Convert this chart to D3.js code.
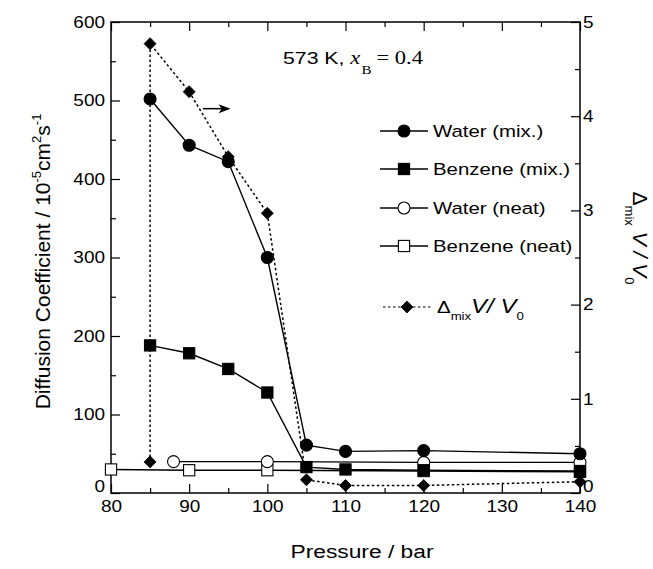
<!DOCTYPE html>
<html>
<head>
<meta charset="utf-8">
<script src="https://cdn.jsdelivr.net/npm/d3@7"></script>
<style>
  body { margin: 0; background: #fff; }
  text { font-family: "Liberation Sans", Arial, sans-serif; fill: #000; }
  .serif { font-family: "Liberation Serif", "Times New Roman", serif; }
</style>
</head>
<body>
<div id="chart"></div>
<script>
// --- data
const pressureMix = [85, 90, 95, 100, 105, 110, 120, 140];
const waterMix = [502, 443, 422, 300, 61, 53, 54, 50];
const benzeneMix = [188, 178, 158, 128, 33, 30, 29, 28];

const pressureWaterNeat = [88, 100, 120, 140];
const waterNeat = [40, 40, 39, 39];

const pressureBenzeneNeat = [80, 90, 100, 120, 140];
const benzeneNeat = [30, 29, 29, 28, 27];

const pressureVol = [85, 85, 90, 95, 100, 105, 110, 120, 140];
const mixVolume = [0.33, 4.77, 4.26, 3.57, 2.97, 0.14, 0.08, 0.08, 0.12];

const xTicks = [80, 90, 100, 110, 120, 130, 140];
const yLeftTicks = [0, 100, 200, 300, 400, 500, 600];
const yRightTicks = [0, 1, 2, 3, 4, 5];

// --- layout
const width = 653, height = 569;
const margin = { top: 22, right: 73, bottom: 76, left: 111 };
const stretch = 1.15; // the scanned figure is a bit wider than tall

const svg = d3.select("#chart").append("svg")
  .attr("width", width)
  .attr("height", height)
  .attr("viewBox", [0, 0, width, height]);

svg.append("rect").attr("width", width).attr("height", height).attr("fill", "#fff");

const x = d3.scaleLinear().domain([80, 140]).range([margin.left, width - margin.right]);
const yL = d3.scaleLinear().domain([0, 600]).range([height - margin.bottom, margin.top]);
const yR = d3.scaleLinear().domain([0, 5]).range([height - margin.bottom, margin.top]);

const x0 = x.range()[0], x1 = x.range()[1];
const y0 = yL.range()[0], y1 = yL.range()[1];

// --- axes (ticks pointing inward)
function styleAxis(g) {
  g.select(".domain").remove();
  g.selectAll("line").attr("stroke", "#000").attr("stroke-width", 1.2);
  g.selectAll("text")
    .attr("font-size", 16.5)
    .each(function () {
      const t = d3.select(this);
      const tx = +t.attr("x") || 0;
      t.attr("x", tx / stretch).attr("transform", `scale(${stretch},1)`);
    });
}

// minor ticks
svg.append("g").attr("transform", `translate(0,${y0})`)
  .call(d3.axisBottom(x).tickValues(d3.range(85, 140, 10)).tickSize(-5).tickFormat(""))
  .call(styleAxis);
svg.append("g").attr("transform", `translate(0,${y1})`)
  .call(d3.axisTop(x).tickValues(d3.range(85, 140, 10)).tickSize(-5).tickFormat(""))
  .call(styleAxis);
svg.append("g").attr("transform", `translate(${x0},0)`)
  .call(d3.axisLeft(yL).tickValues(d3.range(50, 600, 100)).tickSize(-5).tickFormat(""))
  .call(styleAxis);
svg.append("g").attr("transform", `translate(${x1},0)`)
  .call(d3.axisRight(yR).tickValues(d3.range(0.5, 5, 1)).tickSize(-5).tickFormat(""))
  .call(styleAxis);

// major ticks
svg.append("g").attr("transform", `translate(0,${y0})`)
  .call(d3.axisBottom(x).tickValues(xTicks).tickSize(-9).tickPadding(7).tickFormat(d3.format("d")))
  .call(styleAxis);
svg.append("g").attr("transform", `translate(0,${y1})`)
  .call(d3.axisTop(x).tickValues(xTicks).tickSize(-9).tickFormat(""))
  .call(styleAxis);
svg.append("g").attr("transform", `translate(${x0},0)`)
  .call(d3.axisLeft(yL).tickValues(yLeftTicks).tickSize(-9).tickPadding(6).tickFormat(d3.format("d")))
  .call(styleAxis)
  .call(g => g.selectAll(".tick text").filter(d => d === 0).attr("dy", "-0.1em"));
svg.append("g").attr("transform", `translate(${x1},0)`)
  .call(d3.axisRight(yR).tickValues(yRightTicks).tickSize(-9).tickPadding(3).tickFormat(d3.format("d")))
  .call(styleAxis)
  .call(g => g.selectAll(".tick text").filter(d => d === 0).attr("dy", "-0.1em"));

// frame
svg.append("rect")
  .attr("x", x0).attr("y", y1)
  .attr("width", x1 - x0).attr("height", y0 - y1)
  .attr("fill", "none").attr("stroke", "#000").attr("stroke-width", 1.5);

// --- axis titles
svg.append("text")
  .attr("transform", `translate(362,558) scale(1.2,1)`)
  .attr("text-anchor", "middle")
  .attr("font-size", 19)
  .text("Pressure / bar");

const yLabel = svg.append("text")
  .attr("transform", `translate(50,${(y0 + y1) / 2 + 4}) rotate(-90)`)
  .attr("text-anchor", "middle")
  .attr("font-size", 21);
yLabel.append("tspan").text("Diffusion Coefficient / 10");
yLabel.append("tspan").attr("font-size", 13).attr("dy", -9).text("-5");
yLabel.append("tspan").attr("dy", 9).text("cm");
yLabel.append("tspan").attr("font-size", 13).attr("dy", -9).text("2");
yLabel.append("tspan").attr("dy", 9).text("s");
yLabel.append("tspan").attr("font-size", 13).attr("dy", -9).text("-1");

const rLabel = svg.append("text")
  .attr("transform", `translate(633,238) rotate(90)`)
  .attr("text-anchor", "middle")
  .attr("font-size", 21);
rLabel.append("tspan").text("\u0394");
rLabel.append("tspan").attr("font-size", 13).attr("dy", 8).text("mix");
rLabel.append("tspan").attr("dy", -8).attr("font-style", "italic").text(" V / V");
rLabel.append("tspan").attr("font-size", 13).attr("dy", 8).text("0");

// --- condition label
const title = svg.append("text")
  .attr("transform", "translate(283,64) scale(1.25,1)")
  .attr("font-size", 17);
title.append("tspan").text("573 K, ");
title.append("tspan").attr("class", "serif").attr("font-style", "italic").attr("font-size", 18).text("x");
title.append("tspan").attr("class", "serif").attr("font-size", 12).attr("dy", 10).attr("dx", 1).text("B");
title.append("tspan").attr("class", "serif").attr("font-size", 18).attr("dy", -10).attr("dx", 4).text("= 0.4");

// --- markers
const diamond = "M0,-6L6,0L0,6L-6,0Z";
function drawMarker(g, shape, filled) {
  const fill = filled ? "#000" : "#fff";
  if (shape === "circle") {
    g.append("circle").attr("r", 6).attr("fill", fill).attr("stroke", "#000").attr("stroke-width", 1.1);
  } else if (shape === "square") {
    g.append("rect").attr("x", -5.6).attr("y", -5.6).attr("width", 11.2).attr("height", 11.2)
      .attr("fill", fill).attr("stroke", "#000").attr("stroke-width", 1.1);
  } else {
    g.append("path").attr("d", diamond).attr("fill", fill).attr("stroke", "#000").attr("stroke-width", 0.8);
  }
}

const series = [
  { name: "Benzene (neat)", xs: pressureBenzeneNeat, ys: benzeneNeat, y: yL, shape: "square", filled: false, dash: null },
  { name: "Water (neat)", xs: pressureWaterNeat, ys: waterNeat, y: yL, shape: "circle", filled: false, dash: null },
  { name: "Benzene (mix.)", xs: pressureMix, ys: benzeneMix, y: yL, shape: "square", filled: true, dash: null },
  { name: "Water (mix.)", xs: pressureMix, ys: waterMix, y: yL, shape: "circle", filled: true, dash: null },
  { name: "vol", xs: pressureVol, ys: mixVolume, y: yR, shape: "diamond", filled: true, dash: "2.5,2.5" }
];

series.forEach(s => {
  const pts = s.xs.map((p, i) => [p, s.ys[i]]);
  const line = d3.line().x(d => x(d[0])).y(d => s.y(d[1]));
  svg.append("path")
    .attr("d", line(pts))
    .attr("fill", "none")
    .attr("stroke", "#000")
    .attr("stroke-width", s.dash ? 1.5 : 1.4)
    .attr("stroke-dasharray", s.dash);
  svg.append("g").selectAll("g")
    .data(pts)
    .join("g")
    .attr("transform", d => `translate(${x(d[0])},${s.y(d[1])})`)
    .each(function () { drawMarker(d3.select(this), s.shape, s.filled); });
});

// arrow pointing to the right axis
const ax0 = x(91.75), ax1 = x(95.3), ay = yR(4.08);
svg.append("line").attr("x1", ax0).attr("y1", ay).attr("x2", ax1 - 6).attr("y2", ay)
  .attr("stroke", "#000").attr("stroke-width", 1.5);
svg.append("path").attr("d", `M${ax1},${ay}L${ax1 - 12},${ay - 4.5}L${ax1 - 9},${ay}L${ax1 - 12},${ay + 4.5}Z`)
  .attr("fill", "#000");

// --- legend
const legendRows = [
  { label: "Water (mix.)", shape: "circle", filled: true, dash: null, y: 131 },
  { label: "Benzene (mix.)", shape: "square", filled: true, dash: null, y: 169 },
  { label: "Water (neat)", shape: "circle", filled: false, dash: null, y: 208 },
  { label: "Benzene (neat)", shape: "square", filled: false, dash: null, y: 246 },
  { label: null, shape: "diamond", filled: true, dash: "2.5,2.5", y: 307 }
];
const legend = svg.append("g");
legendRows.forEach(r => {
  legend.append("line")
    .attr("x1", r.dash ? 383 : 380).attr("x2", r.dash ? 433 : 428).attr("y1", r.y).attr("y2", r.y)
    .attr("stroke", "#000").attr("stroke-width", r.dash ? 1.2 : 1.4)
    .attr("stroke-dasharray", r.dash);
  drawMarker(legend.append("g").attr("transform", `translate(${r.dash ? 407 : 404},${r.y})`), r.shape, r.filled);
  const t = legend.append("text")
    .attr("transform", `translate(${r.label ? 433 : 437},${r.y + 6}) scale(1.2,1)`)
    .attr("font-size", 17);
  if (r.label) {
    t.text(r.label);
  } else {
    t.append("tspan").text("\u0394");
    t.append("tspan").attr("font-size", 11).attr("dy", 7).text("mix");
    t.append("tspan").attr("dy", -7).attr("font-style", "italic").attr("font-size", 20).text("V/ V");
    t.append("tspan").attr("font-size", 11).attr("dy", 7).text("0");
  }
});
</script>
</body>
</html>
